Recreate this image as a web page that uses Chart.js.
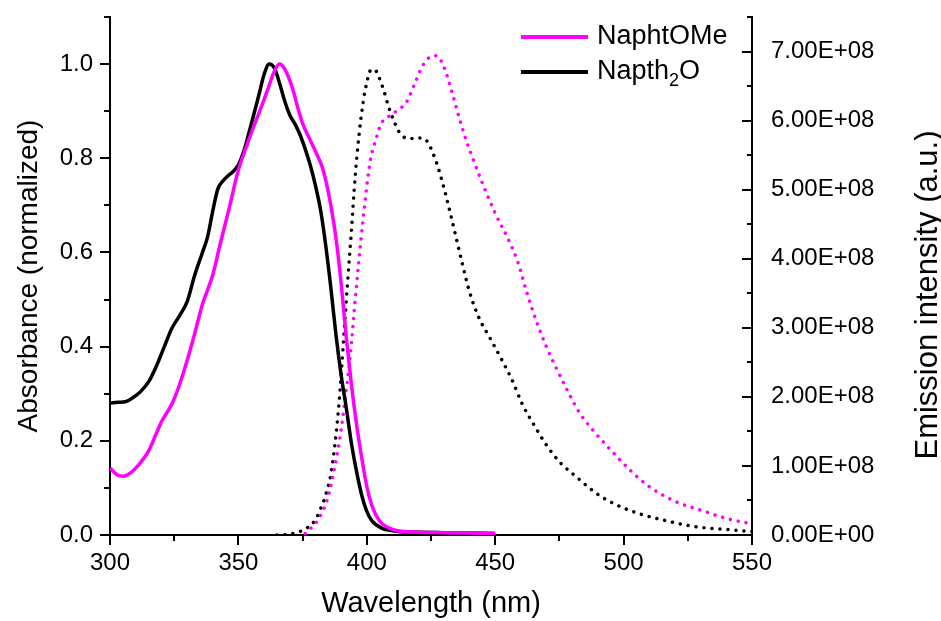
<!DOCTYPE html>
<html>
<head>
<meta charset="utf-8">
<script src="https://cdn.jsdelivr.net/npm/chart.js@4.4.1/dist/chart.umd.min.js"></script>
<style>
    html, body { margin: 0; padding: 0; background: #fff; }
</style>
</head>
<body>
<canvas id="SpectraChart" width="941" height="621"></canvas>
<script>
(function() {
    "use strict";

    // absorbance, NaphtOMe (normalized)
    var absWlOMe = [300, 303, 305, 308, 311, 315, 318, 320, 324, 327, 330, 333, 336, 340, 343, 346, 350, 353, 356, 359, 362, 364, 366, 368, 371, 373, 375, 378, 380, 383, 386, 388, 390, 392, 394, 396, 398, 400, 402, 404, 406, 409, 412, 416, 420, 430, 440, 450];
    var absOMe = [0.142, 0.127, 0.125, 0.132, 0.148, 0.178, 0.215, 0.240, 0.277, 0.318, 0.370, 0.428, 0.490, 0.552, 0.620, 0.685, 0.775, 0.823, 0.868, 0.910, 0.955, 0.985, 1.000, 0.990, 0.950, 0.910, 0.874, 0.838, 0.815, 0.775, 0.700, 0.630, 0.535, 0.420, 0.320, 0.235, 0.165, 0.103, 0.062, 0.038, 0.024, 0.014, 0.009, 0.007, 0.006, 0.005, 0.004, 0.003];

    // absorbance, Napth2O (normalized)
    var absWl2O = [300, 303, 306, 309, 312, 315, 318, 321, 324, 327, 330, 333, 336, 338, 340, 342, 344, 346, 348, 350, 352, 354, 356, 358, 360, 362, 364, 366, 368, 370, 372, 374, 376, 378, 380, 382, 384, 386, 388, 390, 392, 394, 396, 398, 400, 402, 406, 410, 413, 420, 430, 440, 450];
    var abs2O = [0.280, 0.282, 0.283, 0.292, 0.305, 0.325, 0.358, 0.398, 0.438, 0.465, 0.495, 0.552, 0.600, 0.633, 0.688, 0.735, 0.752, 0.763, 0.772, 0.786, 0.813, 0.852, 0.893, 0.935, 0.978, 1.000, 0.992, 0.960, 0.922, 0.892, 0.873, 0.850, 0.820, 0.785, 0.742, 0.690, 0.615, 0.525, 0.425, 0.340, 0.270, 0.195, 0.135, 0.085, 0.050, 0.030, 0.014, 0.009, 0.007, 0.006, 0.005, 0.004, 0.003];

    // emission, NaphtOMe (a.u.)
    var emWlOMe = [376, 378, 380.5, 382.5, 384.5, 387, 389.5, 391.5, 393.5, 395.5, 397, 398.5, 400, 401.5, 403.5, 405.5, 408.5, 412, 415.5, 418.5, 422, 425, 427, 429, 431, 433.5, 436, 439, 441.5, 445.5, 450.5, 455.5, 459, 462, 466, 470, 474, 478, 483, 488, 495, 502.5, 510, 520.5, 530, 540, 550];
    var emOMe = [0.02e8, 0.09e8, 0.19e8, 0.32e8, 0.50e8, 0.89e8, 1.40e8, 1.96e8, 2.58e8, 3.41e8, 4.00e8, 4.55e8, 5.05e8, 5.45e8, 5.72e8, 5.95e8, 6.06e8, 6.15e8, 6.27e8, 6.52e8, 6.81e8, 6.93e8, 6.94e8, 6.86e8, 6.68e8, 6.37e8, 6.04e8, 5.68e8, 5.43e8, 5.05e8, 4.62e8, 4.25e8, 3.93e8, 3.55e8, 3.10e8, 2.72e8, 2.40e8, 2.10e8, 1.76e8, 1.52e8, 1.23e8, 0.94e8, 0.70e8, 0.48e8, 0.36e8, 0.24e8, 0.16e8];

    // emission, Napth2O (a.u.)
    var emWl2O = [365, 368, 371, 374, 377, 380, 382, 384, 386, 388, 389.6, 391, 392.5, 394, 395.5, 397, 398.5, 400, 401.5, 403, 404.5, 406.5, 408.5, 410.5, 412.5, 415, 418, 421, 423.5, 425.5, 427.5, 429.5, 432, 434.5, 437, 440, 443.5, 448, 452.5, 456.5, 460.5, 465, 470, 475, 482, 489.5, 497, 506, 515, 528, 540, 550];
    var em2O = [0.00e8, 0.005e8, 0.02e8, 0.05e8, 0.11e8, 0.22e8, 0.38e8, 0.58e8, 0.88e8, 1.45e8, 2.10e8, 2.85e8, 3.65e8, 4.40e8, 5.20e8, 5.80e8, 6.25e8, 6.55e8, 6.73e8, 6.74e8, 6.65e8, 6.45e8, 6.20e8, 6.00e8, 5.84e8, 5.75e8, 5.74e8, 5.75e8, 5.70e8, 5.55e8, 5.35e8, 5.10e8, 4.74e8, 4.35e8, 3.96e8, 3.52e8, 3.16e8, 2.85e8, 2.54e8, 2.25e8, 1.90e8, 1.60e8, 1.30e8, 1.06e8, 0.83e8, 0.60e8, 0.44e8, 0.31e8, 0.22e8, 0.12e8, 0.08e8, 0.05e8];

    // labelled ticks
    var xTicks = [300, 350, 400, 450, 500, 550];
    var absTicks = [0, 0.2, 0.4, 0.6, 0.8, 1.0];
    var emTicks = [0, 1e8, 2e8, 3e8, 4e8, 5e8, 6e8, 7e8];

    var MAGENTA = "#ff00ff",
        BLACK = "#000000",
        FONT = "'Liberation Sans', Arial, sans-serif";

    Chart.defaults.color = "#000";
    Chart.defaults.font.family = FONT;

    function points(xs, ys) {
        return xs.map(function(x, i) {
            return { x: x, y: ys[i] };
        });
    }

    function labelFor(v, list, fmt) {
        for (var i = 0; i < list.length; i++) {
            if (Math.abs(v - list[i]) < 1e-6 * Math.max(1, Math.abs(list[i]))) {
                return fmt(list[i]);
            }
        }
        return "";
    }

    function sci(v) {
        if (v === 0) return "0.00E+00";
        var e = Math.floor(Math.log10(v) + 1e-9);
        var m = v / Math.pow(10, e);
        return m.toFixed(2) + "E+" + (e < 10 ? "0" : "") + e;
    }

    // fixed axis sizes, no extra label padding around the plot
    function fixWidth(w) {
        return function(s) {
            s.width = w;
            s.paddingTop = 0;
            s.paddingBottom = 0;
        };
    }

    // outward ticks on left/bottom, inward ticks on the right axis
    var tickMarks = {
        id: "tickMarks",
        afterDraw: function(chart) {
            var ctx = chart.ctx,
                area = chart.chartArea,
                sx = chart.scales.x,
                sy = chart.scales.y,
                sy2 = chart.scales.y2;

            ctx.save();
            ctx.strokeStyle = "#000";
            ctx.lineWidth = 2;
            ctx.beginPath();
            sx.ticks.forEach(function(t) {
                var px = Math.round(sx.getPixelForValue(t.value));
                ctx.moveTo(px, area.bottom);
                ctx.lineTo(px, area.bottom + (t.label ? 10 : 6));
            });
            sy.ticks.forEach(function(t) {
                var py = Math.round(sy.getPixelForValue(t.value));
                ctx.moveTo(area.left, py);
                ctx.lineTo(area.left - (t.label ? 10 : 6), py);
            });
            sy2.ticks.forEach(function(t) {
                var py = Math.round(sy2.getPixelForValue(t.value));
                ctx.moveTo(area.right, py);
                ctx.lineTo(area.right - (t.label ? 10 : 5), py);
            });
            ctx.stroke();

            // right axis title, reading bottom to top
            var title = chart.options.scales.y2.title;
            ctx.font = "31px " + FONT;
            ctx.fillStyle = "#000";
            ctx.textAlign = "center";
            ctx.textBaseline = "middle";
            ctx.translate(928, (area.top + area.bottom) / 2 + 19);
            ctx.rotate(-Math.PI / 2);
            ctx.fillText(title.text, 0, 0);
            ctx.restore();
        }
    };

    // legend for the two compounds, with the subscript in Napth2O
    var compoundLegend = {
        id: "compoundLegend",
        afterDraw: function(chart) {
            var ctx = chart.ctx;
            var rows = [chart.data.datasets[0], chart.data.datasets[1]];
            var x0 = 521, x1 = 588, tx = 597, y = 37, gap = 35;

            ctx.save();
            ctx.textBaseline = "middle";
            ctx.textAlign = "left";
            ctx.fillStyle = "#000";
            rows.forEach(function(ds, i) {
                var yy = y + i * gap;
                ctx.strokeStyle = ds.borderColor;
                ctx.lineWidth = 4;
                ctx.beginPath();
                ctx.moveTo(x0, yy);
                ctx.lineTo(x1, yy);
                ctx.stroke();

                var parts = ds.label.split("\u2082");
                ctx.font = "27px " + FONT;
                var cx = tx;
                ctx.fillText(parts[0], cx, yy);
                cx += ctx.measureText(parts[0]).width;
                if (parts.length > 1) {
                    ctx.font = "18px " + FONT;
                    ctx.fillText("2", cx, yy + 9);
                    cx += ctx.measureText("2").width;
                    ctx.font = "27px " + FONT;
                    ctx.fillText(parts[1], cx, yy);
                }
            });
            ctx.restore();
        }
    };

    var tickFont = { size: 24, family: FONT };

    var spectraChartContainer = document.getElementById("SpectraChart");

    var spectraChart = new Chart(spectraChartContainer, {
        type: "line",
        data: {
            datasets: [
                {
                    label: "NaphtOMe",
                    data: points(absWlOMe, absOMe),
                    yAxisID: "y",
                    borderColor: MAGENTA,
                    borderWidth: 3.5
                },
                {
                    label: "Napth\u2082O",
                    data: points(absWl2O, abs2O),
                    yAxisID: "y",
                    borderColor: BLACK,
                    borderWidth: 3.5
                },
                {
                    label: "NaphtOMe emission",
                    data: points(emWlOMe, emOMe),
                    yAxisID: "y2",
                    borderColor: MAGENTA,
                    borderWidth: 3.5,
                    borderDash: [0.01, 8],
                    borderCapStyle: "round"
                },
                {
                    label: "Napth\u2082O emission",
                    data: points(emWl2O, em2O),
                    yAxisID: "y2",
                    borderColor: BLACK,
                    borderWidth: 3.5,
                    borderDash: [0.01, 8],
                    borderCapStyle: "round"
                }
            ]
        },
        options: {
            responsive: false,
            animation: false,
            devicePixelRatio: 1,
            layout: { padding: { top: 17, left: 0, right: 0, bottom: 0 } },
            elements: {
                point: { radius: 0 },
                line: { cubicInterpolationMode: "monotone", fill: false }
            },
            plugins: {
                legend: { display: false },
                tooltip: { enabled: false }
            },
            scales: {
                x: {
                    type: "linear",
                    position: "bottom",
                    min: 300,
                    max: 550,
                    ticks: {
                        stepSize: 25,
                        autoSkip: false,
                        maxRotation: 0,
                        padding: 14,
                        font: tickFont,
                        callback: function(v) {
                            return labelFor(v, xTicks, String);
                        }
                    },
                    grid: { display: false, drawTicks: false },
                    border: { display: true, color: "#000", width: 2 },
                    title: {
                        display: true,
                        text: "Wavelength (nm)",
                        font: { size: 29, family: FONT },
                        padding: { top: 0, bottom: 0 }
                    },
                    afterFit: function(s) {
                        s.height = 86;
                        s.paddingLeft = 0;
                        s.paddingRight = 0;
                    }
                },
                y: {
                    type: "linear",
                    position: "left",
                    min: 0,
                    max: 1.1,
                    ticks: {
                        stepSize: 0.1,
                        autoSkip: false,
                        padding: 17,
                        font: tickFont,
                        callback: function(v) {
                            return labelFor(v, absTicks, function(t) { return t.toFixed(1); });
                        }
                    },
                    grid: { display: false, drawTicks: false },
                    border: { display: true, color: "#000", width: 2 },
                    title: {
                        display: true,
                        text: "Absorbance (normalized)",
                        font: { size: 28, family: FONT },
                        padding: { top: 12, bottom: 0 }
                    },
                    afterFit: fixWidth(110)
                },
                y2: {
                    type: "linear",
                    position: "right",
                    min: 0,
                    max: 7.5e8,
                    ticks: {
                        stepSize: 0.5e8,
                        autoSkip: false,
                        padding: 19,
                        font: tickFont,
                        callback: function(v) {
                            return labelFor(v, emTicks, sci);
                        }
                    },
                    grid: { display: false, drawTicks: false },
                    border: { display: true, color: "#000", width: 2 },
                    title: {
                        display: false,
                        text: "Emission intensity (a.u.)"
                    },
                    afterFit: fixWidth(189)
                }
            }
        },
        plugins: [tickMarks, compoundLegend]
    });
})();
</script>
</body>
</html>
